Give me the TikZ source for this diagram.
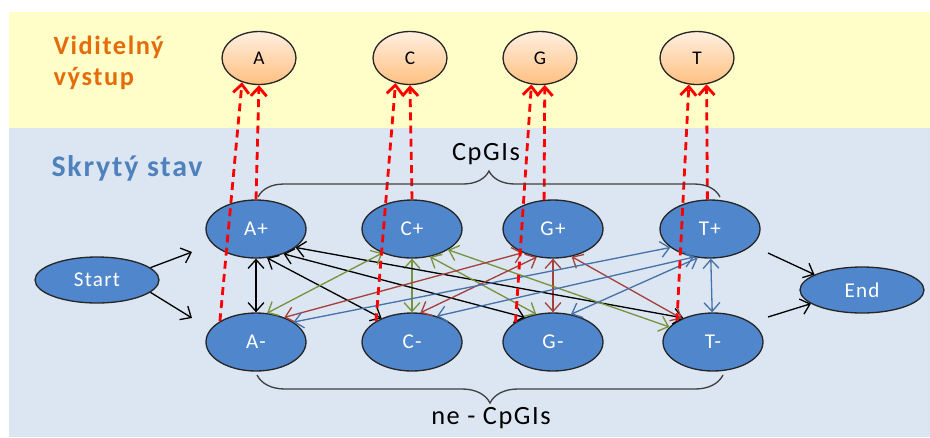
\documentclass[tikz,border=0pt]{standalone}
\usepackage{fontspec}
\setmainfont[LetterSpace=6]{Carlito}
\usetikzlibrary{arrows.meta,shapes.geometric,decorations.pathreplacing}
\definecolor{bandyellow}{RGB}{255,253,200}
\definecolor{bandblue}{RGB}{220,230,242}
\definecolor{statefill}{RGB}{80,134,204}
\definecolor{labelorange}{RGB}{228,108,10}
\definecolor{labelblue}{RGB}{79,129,189}
\definecolor{edgegreen}{RGB}{119,147,60}
\definecolor{edgered}{RGB}{165,64,61}
\definecolor{edgeblue}{RGB}{70,114,170}
\begin{document}
\begin{tikzpicture}[x=0.02cm, y=-0.02cm, >={Straight Barb[length=5pt,width=9pt]},
    every node/.style={font=\fontsize{12}{14}\selectfont},
    every path/.style={line width=0.75pt},
    hstate/.style={ellipse, draw=black!85, fill=statefill, text=white, inner sep=0pt,
                   minimum width=2cm, minimum height=1.16cm},
    ostate/.style={ellipse, draw=black!85, top color=orange!12, bottom color=orange!50!white,
                   inner sep=0pt, minimum width=1.48cm, minimum height=1.06cm,
                   font=\fontsize{11}{13}\selectfont},
    termstate/.style={hstate, minimum width=2.48cm, minimum height=0.92cm},
    emitline/.style={->, red, line width=1.6pt, dash pattern=on 4.5pt off 3pt},
    bracket/.style={decorate, decoration={brace, amplitude=#1}, draw=black!75}]
    \fill[bandblue]   (9,128) rectangle (930,437);
    \fill[bandyellow] (9,12)  rectangle (930,128);
    \useasboundingbox (0,0) rectangle (930,437);

    \node[font=\fontsize{15}{17.6}\selectfont\bfseries, text=labelorange, anchor=west, align=left]
        (vis) at (47,63) {Viditelný\\výstup};
    \node[font=\fontsize{17}{19}\selectfont\bfseries, text=labelblue, anchor=west]
        (hid) at (45,168) {Skrytý stav};

    \node[ostate] (A) at (259,58) {A};
    \node[ostate] (C) at (410,58) {C};
    \node[ostate] (G) at (540,58) {G};
    \node[ostate] (T) at (697,58) {T};

    \node[hstate] (Ap) at (256,229) {A+};
    \node[hstate] (Cp) at (412,229) {C+};
    \node[hstate] (Gp) at (553,229) {G+};
    \node[hstate] (Tp) at (710,229) {T+};
    \node[hstate] (Am) at (256,342) {A-};
    \node[hstate] (Cm) at (412,342) {C-};
    \node[hstate] (Gm) at (553,342) {G-};
    \node[hstate] (Tm) at (713,342) {T-};
    \node[termstate] (Start) at (97,280) {Start};
    \node[termstate] (End) at (862,290) {End};

    \coordinate (s1) at (192,252);
    \coordinate (s2) at (192,318);
    \coordinate (e1) at (768,253);
    \coordinate (e2) at (768,317);
    \draw[->] (Start.13) -- (s1);
    \draw[->] (Start.-13) -- (s2);
    \draw[->] (e1) -- (End.162);
    \draw[->] (e2) -- (End.195);

    \draw[<->] (Ap) -- (Am);
    \draw[<->, edgegreen] (Cp) -- (Cm);
    \draw[<->, edgered] (Gp) -- (Gm);
    \draw[<->, edgeblue] (Tp) -- (Tm);
    \foreach \s/\sa/\t/\ta/\c in {Ap/-69/Cm/142/black, Ap/-42/Gm/139/black, Ap/-25/Tm/141/black,
        Cp/219/Am/69/edgegreen, Cp/-57/Gm/121/edgegreen, Cp/-30/Tm/161/edgegreen,
        Gp/218/Am/41/edgered, Gp/240/Cm/74/edgered, Gp/-56/Tm/143/edgered,
        Tp/205/Am/28/edgeblue, Tp/240/Cm/46/edgeblue, Tp/247/Gm/57/edgeblue}
        \draw[<->, \c] (\s.\sa) -- (\t.\ta);

    \foreach \x/\la/\ua/\pa/\ta in {A/150/235/90/-90, C/150/240/90/-90, G/152/252/107/-80, T/150/253/95/-70} {
        \draw[emitline] (\x m.\la) -- (\x.\ua);
        \draw[emitline] (\x p.\pa) -- (\x.\ta);
    }

    \draw[bracket=0.52cm] (258,197) -- (720,197);
    \draw[bracket=0.56cm] (723,375) -- (257,375);
    \node[font=\fontsize{15}{17}\selectfont] (cpg) at (486,154) {CpGIs};
    \node[font=\fontsize{15}{17}\selectfont] (noncpg) at (491,418) {ne - CpGIs};
\end{tikzpicture}
\end{document}
